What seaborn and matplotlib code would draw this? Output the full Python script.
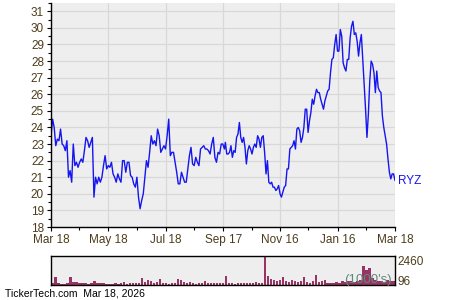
import numpy as np
import pandas as pd
import matplotlib
matplotlib.use("Agg")
import matplotlib.pyplot as plt
import matplotlib.dates as mdates
from matplotlib.ticker import MultipleLocator, FixedLocator
import seaborn as sns

# ---------------- data ----------------
ticker = "RYZ"
# closing prices, Mar 18 2025 -> Sep 18 2025
prices_first = [23.5, 24.5, 24.0, 22.9, 23.3, 23.2, 23.9, 23.0, 22.9, 22.6,
                23.2, 21.0, 21.4, 20.7, 23.0, 21.7, 21.9, 21.6, 21.9, 22.1,
                21.9, 22.6, 23.4, 23.2, 22.8, 23.1, 23.4, 19.8, 21.0, 20.6,
                21.0, 20.7, 21.0, 21.7, 22.3, 21.5, 21.7, 21.6, 21.9, 21.2,
                21.0, 20.7, 21.2, 20.9, 20.7, 22.0, 22.0, 21.3, 21.9, 21.9,
                21.1, 21.0, 20.6, 20.4, 21.0, 19.8, 19.1, 19.6, 20.0, 21.0,
                22.0, 21.6, 22.5, 23.5, 23.0, 23.2, 22.9, 23.9, 23.5, 22.5,
                22.7, 22.9, 22.7, 23.5, 24.5, 22.3, 22.5, 22.5, 21.9, 21.3,
                20.6, 20.6, 21.3, 21.0, 20.7, 20.7, 21.5, 22.3, 22.8, 21.8,
                21.7, 22.2, 21.9, 21.7, 22.7, 22.8, 22.9, 22.7, 22.7, 22.6,
                22.4, 23.0, 23.4, 22.2, 21.9, 22.5, 22.4, 23.0, 23.0, 22.7]
# closing prices, Sep 19 2025 -> Mar 18 2026
prices_second = [23.1, 22.4, 22.4, 22.5, 22.9, 22.2, 22.6, 22.5, 23.4, 23.6,
                 24.3, 23.4, 23.1, 23.4, 22.8, 21.8, 22.6, 22.9, 22.7, 22.4,
                 22.8, 23.0, 22.8, 23.5, 23.3, 22.8, 23.4, 23.5, 22.5, 21.2,
                 22.0, 20.7, 20.6, 20.7, 20.4, 20.4, 20.2, 20.3, 20.5, 20.0,
                 19.8, 20.1, 20.4, 20.5, 21.5, 21.5, 22.7, 22.8, 22.9, 23.2,
                 22.7, 23.9, 24.0, 23.8, 23.1, 23.4, 24.0, 25.1, 25.1, 23.7,
                 24.4, 24.9, 25.7, 25.4, 25.9, 26.3, 26.1, 26.1, 25.7, 25.4,
                 25.1, 25.6, 25.9, 26.2, 26.3, 27.3, 28.1, 28.2, 29.0, 29.6,
                 28.6, 28.6, 29.9, 29.5, 27.9, 27.6, 27.4, 28.1, 28.1, 29.4,
                 30.1, 30.4, 29.6, 29.7, 29.2, 28.3, 29.1, 29.6, 28.1, 26.7,
                 25.1, 23.4, 24.8, 26.8, 28.0, 27.8, 27.3, 26.1, 27.4, 26.4,
                 26.2, 26.1, 24.7, 24.0, 23.5, 23.0, 22.1, 21.3, 20.9, 21.2,
                 21.2, 20.8]
# volume (1000's), Mar 18 2025 -> Mar 18 2026
volume = [150, 690, 150, 100, 100, 150, 690, 260, 250, 150,
          130, 180, 120, 150, 300, 200, 150, 130, 110, 100,
          90, 180, 120, 200, 250, 120, 150, 150, 130, 200,
          600, 250, 430, 300, 150, 250, 490, 200, 150, 120,
          150, 200, 515, 400, 250, 150, 250, 150, 120, 130,
          150, 350, 200, 130, 150, 200, 150, 180, 770, 180,
          150, 120, 150, 200, 130, 200, 150, 180, 250, 200,
          180, 2460, 770, 500, 450, 300, 400, 690, 300, 250,
          450, 350, 250, 300, 650, 250, 200, 350, 890, 250,
          300, 400, 200, 150, 200, 250, 200, 300, 250, 350,
          300, 250, 300, 400, 1640, 1300, 1400, 600, 400, 300,
          350, 250, 400, 350, 300]
vol_max_label = "2460"
vol_min_label = "96"
tick_dates = ["2025-03-18", "2025-05-18", "2025-07-18", "2025-09-17",
              "2025-11-16", "2026-01-16", "2026-03-18"]
tick_labels = ["Mar 18", "May 18", "Jul 18", "Sep 17", "Nov 16", "Jan 16", "Mar 18"]
minor_dates = ["2025-04-17", "2025-06-17", "2025-08-17", "2025-10-17",
               "2025-12-16", "2026-02-15"]
footer = "TickerTech.com  Mar 18, 2026"

# ---------------- build frames ----------------
d1 = pd.date_range("2025-03-18", "2025-09-18", periods=len(prices_first))
d2 = pd.date_range("2025-09-19", "2026-03-18", periods=len(prices_second))
df = pd.DataFrame({"date": list(d1) + list(d2),
                   "price": prices_first + prices_second})
vdf = pd.DataFrame({"date": pd.date_range("2025-03-18", "2026-03-18", periods=len(volume)),
                    "vol": volume})

sns.set_theme(style="white")
plt.rcParams["font.family"] = ["Liberation Sans", "DejaVu Sans"]
txt_col = "#4d3c1c"

fig = plt.figure(figsize=(4.5, 3.0), dpi=100)
fig.patch.set_facecolor("white")
ax = fig.add_axes([51 / 450, 1 - 227 / 300, 344 / 450, 224 / 300])
axv = fig.add_axes([51 / 450, 1 - 285 / 300, 344 / 450, 29 / 300])

x0, x1 = pd.Timestamp("2025-03-18"), pd.Timestamp("2026-03-18")

# ---- main price chart ----
ax.set_facecolor("#eeeeee")
sns.lineplot(data=df, x="date", y="price", ax=ax, color="#1515f0", linewidth=1.0)
ax.set_xlim(x0, x1)
ax.set_ylim(18, 31.5)
ax.yaxis.set_major_locator(FixedLocator(list(range(18, 32))))
ax.yaxis.set_minor_locator(MultipleLocator(0.5))
ax.xaxis.set_major_locator(FixedLocator(mdates.date2num(pd.to_datetime(tick_dates))))
ax.xaxis.set_minor_locator(FixedLocator(mdates.date2num(pd.to_datetime(minor_dates))))
ax.set_xticklabels(tick_labels)
ax.grid(True, which="major", color="#d8d8d8", linewidth=0.9)
ax.set_axisbelow(True)
ax.set_xlabel("")
ax.set_ylabel("")
for s in ["top", "right"]:
    ax.spines[s].set_visible(False)
for s in ["left", "bottom"]:
    ax.spines[s].set_color("black")
    ax.spines[s].set_linewidth(1.0)
ax.tick_params(axis="both", which="major", direction="out", length=3, width=0.8,
               color="black", labelsize=8.5, labelcolor=txt_col, pad=2,
               left=True, bottom=True)
ax.tick_params(axis="both", which="minor", direction="out", length=2, width=0.8,
               color="black", left=True, bottom=True)
ax.annotate(ticker, xy=(df["date"].iloc[-1], df["price"].iloc[-1]),
            xytext=(2, 0), textcoords="offset points", va="center", ha="left",
            color="#1515f0", fontsize=8.5, annotation_clip=False)

# ---- volume chart ----
axv.set_facecolor("#eeeeee")
sns.histplot(data=vdf, x="date", weights="vol", bins=len(volume), ax=axv,
             color="#993366", alpha=1.0, edgecolor="none", linewidth=0, shrink=0.8)
axv.set_xlim(x0, x1)
axv.set_ylim(0, 2460)
axv.set_xticks([])
axv.set_yticks([])
axv.set_xlabel("")
axv.set_ylabel("")
for s in axv.spines.values():
    s.set_visible(True)
    s.set_color("black")
    s.set_linewidth(1.0)
axv.text(1.008, 0.78, vol_max_label, transform=axv.transAxes, ha="left", va="center",
         fontsize=8.5, color=txt_col)
axv.text(1.008, 0.12, vol_min_label, transform=axv.transAxes, ha="left", va="center",
         fontsize=8.5, color=txt_col)
axv.text(0.99, 0.16, "(1000's)", transform=axv.transAxes, ha="right", va="center",
         fontsize=9.5, color="#5f8a7a")

fig.text(5 / 450, 1 - 293.5 / 300, footer, ha="left", va="center", fontsize=7.5,
         color="black")

fig.savefig("out.png", dpi=100, facecolor="white")
